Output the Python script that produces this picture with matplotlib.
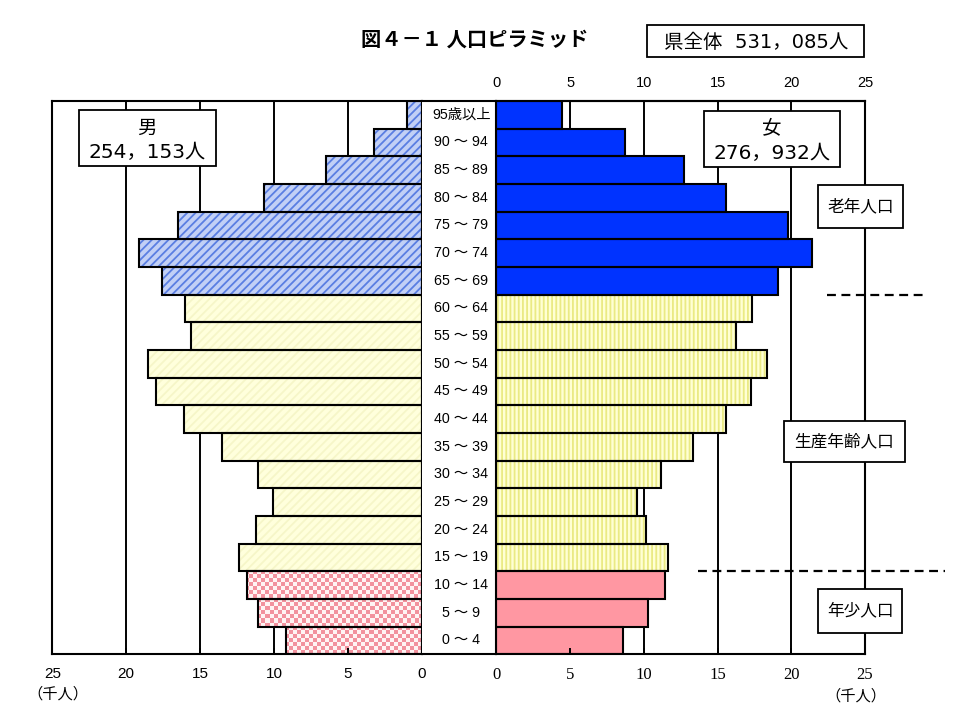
import numpy as np
import matplotlib
matplotlib.use('Agg')
import matplotlib.pyplot as plt
from matplotlib.patches import Rectangle
from matplotlib.colors import ListedColormap

plt.rcParams['font.family'] = ['Noto Sans CJK JP', 'DejaVu Sans']
plt.rcParams['hatch.linewidth'] = 1.3

# ---------------- data ----------------
ages = ['0 ～ 4', '5 ～ 9', '10 ～ 14', '15 ～ 19', '20 ～ 24', '25 ～ 29',
        '30 ～ 34', '35 ～ 39', '40 ～ 44', '45 ～ 49', '50 ～ 54', '55 ～ 59',
        '60 ～ 64', '65 ～ 69', '70 ～ 74', '75 ～ 79', '80 ～ 84', '85 ～ 89',
        '90 ～ 94', '95歳以上']
male = [9.15, 11.1, 11.8, 12.35, 11.2, 10.05, 11.1, 13.5, 16.1, 17.95,
        18.5, 15.6, 16.0, 17.6, 19.14, 16.5, 10.65, 6.46, 3.24, 0.99]
female = [8.61, 10.26, 11.44, 11.66, 10.13, 9.52, 11.15, 13.36, 15.6, 17.29,
          18.33, 16.23, 17.36, 19.1, 21.4, 19.77, 15.6, 12.7, 8.73, 4.48]
group_order = ['young', 'working', 'old']
group_counts = [3, 10, 7]
group_labels = ['年少人口', '生産年齢人口', '老年人口']
xticks = [0, 5, 10, 15, 20, 25]
title = '図４－１ 人口ピラミッド'
total_label = '県全体  531，085人'
male_label = ['男', '254，153人']
female_label = ['女', '276，932人']
unit_label = '（千人）'

# ---------------- layout helpers ----------------
W, H = 955, 716
fig = plt.figure(figsize=(W / 100, H / 100), dpi=100)


def fx(px):
    return px / W


def fy(py):
    return 1 - py / H


top, bot = 101, 654.3
xl0, xl1 = 52.3, 421.7
xr0, xr1 = 496.3, 865.0
axL = fig.add_axes([fx(xl0), fy(bot), fx(xl1 - xl0), (bot - top) / H])
axM = fig.add_axes([fx(xl1), fy(bot), fx(xr0 - xl1), (bot - top) / H])
axR = fig.add_axes([fx(xr0), fy(bot), fx(xr1 - xr0), (bot - top) / H])

y = np.arange(len(ages))
male = np.array(male)
female = np.array(female)
groups = np.repeat(group_order, group_counts)

male_style = {
    'old': dict(color='#c2d0f6', edgecolor='#5a7ee2', hatch='////'),
    'working': dict(color='#ffffdc', edgecolor='#f6f6c8', hatch='////'),
    'young': dict(color='#ffffff', edgecolor='#ffffff', hatch=None),
}
female_style = {
    'old': dict(color='#0033ff', edgecolor='#0033ff', hatch=None),
    'working': dict(color='#ffffd4', edgecolor='#eaea84', hatch='||||'),
    'young': dict(color='#ff97a2', edgecolor='#ff97a2', hatch=None),
}

EDGE = 1.5
GRID = 1.4

for ax in (axL, axR):
    for v in xticks[1:-1]:
        ax.axvline(v, color='black', lw=GRID, zorder=1)

young_bars = []
for g in group_order:
    m = groups == g
    b = axL.barh(y[m], male[m], height=1.0, linewidth=0, zorder=2, **male_style[g])
    if g == 'young':
        young_bars = list(b)
    axR.barh(y[m], female[m], height=1.0, linewidth=0, zorder=2, **female_style[g])

axL.barh(y, male, height=1.0, fill=False, edgecolor='black', linewidth=EDGE, zorder=2.4)
axR.barh(y, female, height=1.0, fill=False, edgecolor='black', linewidth=EDGE, zorder=2.4)

# checker pattern for young males
ncols = int(round((xl1 - xl0) / 4.0))
nrows = int(round((bot - top) / 4.0))
chk = np.add.outer(np.arange(nrows), np.arange(ncols)) % 2
cmap = ListedColormap(['#fff4f4', '#f2929e'])
for b in young_bars:
    im = axL.imshow(chk, cmap=cmap, extent=(0, 25, -0.5, len(ages) - 0.5),
                    aspect='auto', interpolation='nearest', origin='lower', zorder=2.2)
    im.set_clip_path(b)

# axes setup
axL.set_xlim(25, 0)
axR.set_xlim(0, 25)
for ax in (axL, axM, axR):
    ax.set_ylim(-0.5, len(ages) - 0.5)
    ax.set_yticks([])
    ax.set_axisbelow(False)
    for s in ax.spines.values():
        s.set_linewidth(EDGE)

axL.set_xticks(xticks)
axL.tick_params(axis='x', direction='in', length=4, width=GRID, pad=9,
                labelsize=11, labelfontfamily='Liberation Sans')
axR.set_xticks(xticks)
axR.tick_params(axis='x', direction='in', length=4, width=GRID, pad=9,
                labelsize=12, labelfontfamily='Liberation Serif')
sec = axR.secondary_xaxis('top')
sec.set_xticks(xticks)
sec.tick_params(length=0, pad=8, labelsize=10.5, labelfontfamily='Liberation Sans')
sec.spines['top'].set_linewidth(EDGE)

axM.set_xlim(0, 1)
axM.set_xticks([])
axM.spines['left'].set_visible(False)
axM.spines['right'].set_visible(False)
for i, a in enumerate(ages):
    axM.text(0.53, i, a, ha='center', va='center', fontsize=10.3,
             family=['Liberation Sans', 'Noto Sans CJK JP'])

# dashed separators between population groups
bounds = np.cumsum(group_counts)[:-1] - 0.5
axR.plot([13.7, 30.4], [bounds[0], bounds[0]], color='black', lw=1.6,
         ls=(0, (4, 2.5)), clip_on=False, zorder=4)
axR.plot([22.4, 28.9], [bounds[1], bounds[1]], color='black', lw=1.6,
         ls=(0, (4, 2.5)), clip_on=False, zorder=4)

# title and boxes
fig.text(fx(475), fy(39), title, ha='center', va='center', fontsize=14.6,
         fontweight='bold')


def box(x0, y0, x1, y1, lw=1.3):
    fig.add_artist(Rectangle((fx(x0), fy(y1)), fx(x1 - x0), (y1 - y0) / H,
                             transform=fig.transFigure, facecolor='white',
                             edgecolor='black', lw=lw, zorder=5))


NUMF = ['DejaVu Sans', 'Noto Sans CJK JP']
box(647, 25, 864, 57)
fig.text(fx(756), fy(42), total_label, ha='center', va='center', fontsize=14,
         family=NUMF, zorder=6)

box(79, 110, 216, 166)
fig.text(fx(147), fy(128), male_label[0], ha='center', va='center', fontsize=14, zorder=6)
fig.text(fx(147), fy(152), male_label[1], ha='center', va='center', fontsize=14.5,
         family=NUMF, zorder=6)

box(704, 111, 840, 167)
fig.text(fx(772), fy(128), female_label[0], ha='center', va='center', fontsize=14, zorder=6)
fig.text(fx(772), fy(153), female_label[1], ha='center', va='center', fontsize=14.5,
         family=NUMF, zorder=6)

# group label boxes (young, working, old)
gboxes = [(818, 589, 902, 633), (784, 421, 905, 462), (818, 185, 903, 228)]
for (x0, y0, x1, y1), lab in zip(gboxes, group_labels):
    box(x0, y0, x1, y1)
    fig.text(fx((x0 + x1) / 2), fy((y0 + y1) / 2), lab, ha='center', va='center',
             fontsize=12, zorder=6)

fig.text(fx(58), fy(694), unit_label, ha='center', va='center', fontsize=11)
fig.text(fx(856), fy(696), unit_label, ha='center', va='center', fontsize=11)

fig.savefig('out.png', dpi=100)
